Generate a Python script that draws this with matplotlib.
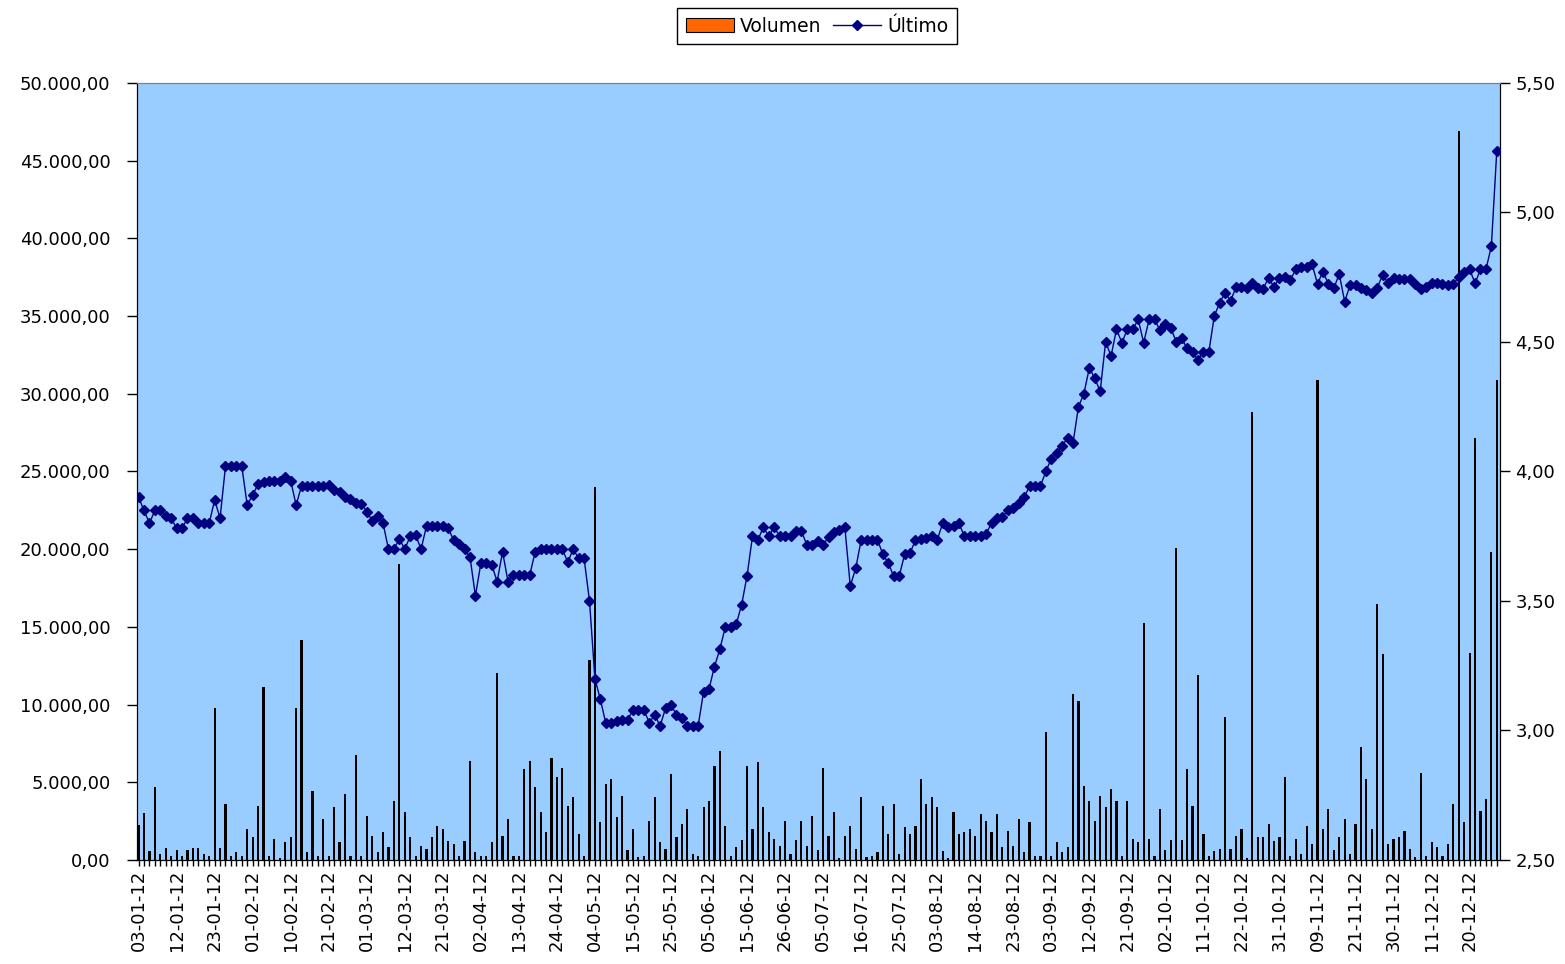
import matplotlib
matplotlib.use('Agg')
import matplotlib.pyplot as plt
from matplotlib.patches import Patch
from matplotlib.lines import Line2D

plt.rcParams['font.family'] = ['DejaVu Sans']

# daily traded volume (left axis)
volumen = [
    2250, 3000, 600, 4700, 390, 750, 280, 640, 280, 640,
    750, 750, 390, 280, 9800, 750, 3600, 280, 490, 280,
    2000, 1460, 3500, 11100, 280, 1350, 100, 1140, 1460, 9800,
    14150, 490, 4460, 280, 2640, 280, 3390, 1140, 4250, 280,
    6750, 280, 2850, 1570, 490, 1780, 815, 3820, 19050, 3070,
    1460, 280, 920, 710, 1460, 2210, 2000, 1240, 1030, 280,
    1240, 6350, 490, 280, 280, 1140, 12030, 1570, 2640, 280,
    280, 5860, 6350, 4680, 3070, 1780, 6560, 5320, 5920, 3500,
    4030, 1670, 280, 12870, 24000, 2420, 4890, 5210, 2750, 4140,
    640, 2000, 210, 280, 2530, 4030, 1140, 710, 5530, 1460,
    2320, 3280, 390, 280, 3390, 3820, 6070, 6990, 2210, 280,
    815, 1290, 6070, 2000, 6280, 3390, 1780, 1350, 920, 2530,
    390, 1290, 2530, 920, 2850, 640, 5920, 1570, 3070, 100,
    1570, 2210, 710, 4030, 170, 280, 490, 3500, 1670, 3600,
    390, 2100, 1670, 2210, 5210, 3600, 4030, 3390, 600, 100,
    3070, 1670, 1780, 2000, 1570, 2960, 2530, 1780, 2960, 815,
    1890, 920, 2640, 490, 2420, 280, 280, 8240, 280, 1140,
    490, 815, 10700, 10230, 4780, 3820, 2530, 4140, 3390, 4570,
    3820, 280, 3820, 1350, 1140, 15250, 1350, 280, 3280, 640,
    1290, 20080, 1290, 5860, 3500, 11900, 1670, 280, 600, 710,
    9200, 710, 1570, 2000, 100, 28830, 1460, 1460, 2320, 1240,
    1460, 5320, 280, 1350, 390, 2210, 1030, 30890, 2000, 3280,
    640, 1460, 2640, 390, 2320, 7250, 5210, 2000, 16470, 13260,
    1030, 1350, 1460, 1890, 710, 170, 5600, 280, 1140, 815,
    280, 1030, 3600, 46900, 2420, 13320, 27160, 3170, 3930, 19820,
    30890,
]

# closing price (right axis)
ultimo = [
    3.90, 3.85, 3.80, 3.85, 3.85, 3.83, 3.82, 3.78, 3.78, 3.82,
    3.82, 3.80, 3.80, 3.80, 3.89, 3.82, 4.02, 4.02, 4.02, 4.02,
    3.87, 3.91, 3.95, 3.96, 3.965, 3.965, 3.965, 3.98, 3.965, 3.87,
    3.945, 3.945, 3.945, 3.945, 3.945, 3.948, 3.93, 3.92, 3.90, 3.895,
    3.88, 3.875, 3.845, 3.81, 3.83, 3.80, 3.70, 3.70, 3.74, 3.70,
    3.75, 3.755, 3.70, 3.79, 3.79, 3.79, 3.79, 3.78, 3.735, 3.72,
    3.70, 3.67, 3.52, 3.645, 3.645, 3.64, 3.575, 3.69, 3.575, 3.60,
    3.60, 3.60, 3.60, 3.69, 3.70, 3.70, 3.70, 3.70, 3.70, 3.65,
    3.70, 3.665, 3.665, 3.50, 3.20, 3.12, 3.028, 3.028, 3.037, 3.04,
    3.04, 3.08, 3.08, 3.08, 3.03, 3.06, 3.018, 3.086, 3.10, 3.06,
    3.047, 3.018, 3.018, 3.018, 3.15, 3.16, 3.247, 3.314, 3.40, 3.40,
    3.41, 3.485, 3.597, 3.75, 3.736, 3.785, 3.75, 3.785, 3.75, 3.75,
    3.75, 3.77, 3.77, 3.717, 3.717, 3.73, 3.716, 3.748, 3.768, 3.774,
    3.785, 3.558, 3.626, 3.735, 3.735, 3.735, 3.737, 3.68, 3.646, 3.595,
    3.595, 3.68, 3.685, 3.735, 3.74, 3.745, 3.75, 3.735, 3.80, 3.785,
    3.79, 3.80, 3.75, 3.75, 3.75, 3.75, 3.76, 3.80, 3.82, 3.825,
    3.85, 3.858, 3.877, 3.90, 3.944, 3.944, 3.944, 4.00, 4.05, 4.07,
    4.10, 4.13, 4.11, 4.25, 4.30, 4.40, 4.36, 4.31, 4.50, 4.446,
    4.549, 4.497, 4.549, 4.549, 4.587, 4.497, 4.587, 4.587, 4.546, 4.569,
    4.553, 4.501, 4.514, 4.475, 4.462, 4.43, 4.462, 4.462, 4.60, 4.652,
    4.69, 4.659, 4.711, 4.711, 4.71, 4.726, 4.707, 4.705, 4.749, 4.711,
    4.749, 4.752, 4.739, 4.781, 4.788, 4.788, 4.801, 4.724, 4.772, 4.724,
    4.707, 4.763, 4.656, 4.72, 4.72, 4.71, 4.70, 4.688, 4.71, 4.759,
    4.727, 4.746, 4.744, 4.742, 4.744, 4.724, 4.703, 4.714, 4.727, 4.727,
    4.724, 4.72, 4.724, 4.752, 4.771, 4.78, 4.727, 4.78, 4.78, 4.87,
    5.239,
]

fechas = [
    '03-01-12', '12-01-12', '23-01-12', '01-02-12', '10-02-12', '21-02-12',
    '01-03-12', '12-03-12', '21-03-12', '02-04-12', '13-04-12', '24-04-12',
    '04-05-12', '15-05-12', '25-05-12', '05-06-12', '15-06-12', '26-06-12',
    '05-07-12', '16-07-12', '25-07-12', '03-08-12', '14-08-12', '23-08-12',
    '03-09-12', '12-09-12', '21-09-12', '02-10-12', '11-10-12', '22-10-12',
    '31-10-12', '09-11-12', '21-11-12', '30-11-12', '11-12-12', '20-12-12',
]

n = len(volumen)
x = list(range(n))

fig = plt.figure(figsize=(15.65, 9.64), dpi=100)
ax = fig.add_axes([0.0875, 0.1079, 0.8710, 0.8060])
ax.set_facecolor('#99CCFF')

# thin columns: the orange fill is hidden by the dark outline in the original
ax.bar(x, volumen, width=0.4, color='black', zorder=2)
ax.set_ylim(0, 50000)
ax.set_xlim(-0.3, n - 0.4)

vol_ticks = list(range(0, 50001, 5000))
ax.set_yticks(vol_ticks)
ax.set_yticklabels([f'{v:,.2f}'.replace(',', '#').replace('.', ',').replace('#', '.') for v in vol_ticks])

ax.set_xticks(list(range(0, n, 7)))
ax.set_xticklabels(fechas, rotation=90)
ax.set_xticks(x, minor=True)
ax.tick_params(axis='x', which='both', length=4, width=1, labelsize=13, pad=3)
ax.tick_params(axis='y', length=7, width=1, labelsize=13, pad=12)

ax2 = ax.twinx()
ax2.plot(x, ultimo, color='#000080', lw=1, marker='D', ms=5, zorder=3)
ax2.set_ylim(2.5, 5.5)
precio_ticks = [2.5, 3.0, 3.5, 4.0, 4.5, 5.0, 5.5]
ax2.set_yticks(precio_ticks)
ax2.set_yticklabels([f'{p:.2f}'.replace('.', ',') for p in precio_ticks])
ax2.tick_params(axis='y', length=7, width=1, labelsize=13, pad=4)

for a in (ax, ax2):
    a.spines['top'].set_color('#808080')
    a.spines['left'].set_color('black')
    a.spines['right'].set_color('black')
    a.spines['bottom'].set_color('black')

handles = [
    Patch(facecolor='#FF6600', edgecolor='black', linewidth=0.8),
    Line2D([], [], color='#000080', lw=1, marker='D', ms=5),
]
leg = fig.legend(handles, ['Volumen', 'Último'], loc='center',
                 bbox_to_anchor=(0.522, 0.973), ncol=2, frameon=True,
                 fancybox=False, edgecolor='black', framealpha=1,
                 fontsize=13.5, handlelength=2.6, handletextpad=0.3,
                 columnspacing=0.6, borderpad=0.45)
leg.get_frame().set_linewidth(1)

fig.savefig('out.png', dpi=100)
